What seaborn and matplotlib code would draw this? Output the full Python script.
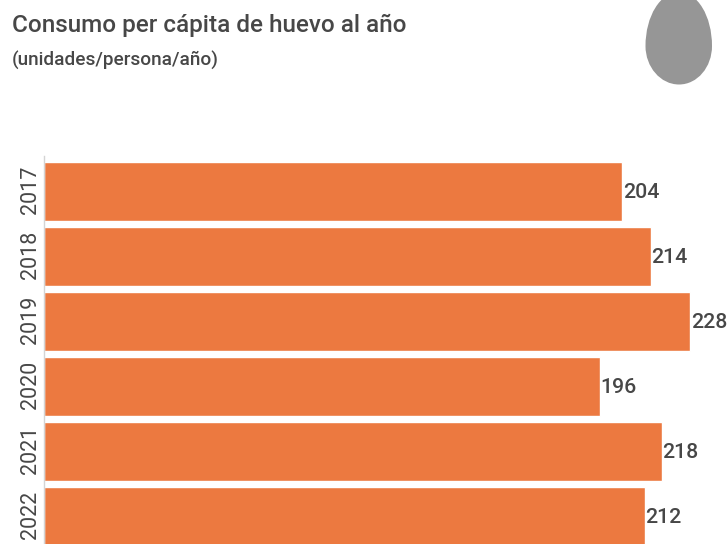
import matplotlib
matplotlib.use("Agg")
import matplotlib.pyplot as plt
import numpy as np
import pandas as pd
import seaborn as sns
from matplotlib.patches import PathPatch
from matplotlib.path import Path
from matplotlib.transforms import ScaledTranslation

years = ["2017", "2018", "2019", "2020", "2021", "2022"]
consumption = [204, 214, 228, 196, 218, 212]

BAR_COLOR = "#EC7940"
TEXT_COLOR = "#474747"
W, H = 728, 544

sns.set_theme(style="white")
plt.rcParams["font.family"] = ["Roboto", "DejaVu Sans"]

fig = plt.figure(figsize=(W / 100, H / 100), dpi=100, facecolor="white")
ax = fig.add_axes([44 / W, 0, (W - 44) / W, (H - 156) / H])

df = pd.DataFrame({"year": years, "consumo": consumption})
sns.barplot(data=df, x="consumo", y="year", order=years, orient="h",
            color=BAR_COLOR, saturation=1, width=0.9, ax=ax)

# Band scale runs past the bottom edge, so the last bar is cut off
ax.set_ylim(5.425, -0.545)
ax.set_xlim(0, (W - 44) / 2.835)
ax.set_xlabel("")
ax.set_ylabel("")
ax.set_xticks([])
ax.tick_params(axis="y", length=0, pad=2.5, labelsize=15.5, labelcolor=TEXT_COLOR)
lift = ScaledTranslation(0, 1.3 / 72, fig.dpi_scale_trans)
for label in ax.get_yticklabels():
    label.set_rotation(90)
    label.set_va("center")
    label.set_transform(label.get_transform() + lift)
sns.despine(ax=ax, top=True, right=True, bottom=True)
ax.spines["left"].set_color("#d4d4d4")
ax.spines["left"].set_linewidth(1)

for i, value in enumerate(consumption):
    ax.annotate(str(value), (value, i), xytext=(0.4, -0.6), textcoords="offset points",
                va="center", ha="left", fontsize=15.3, fontweight="medium",
                color=TEXT_COLOR, clip_on=False)

fig.text(12 / W, 1 - 25.5 / H, "Consumo per cápita de huevo al año", fontsize=17.5,
         fontweight="medium", color=TEXT_COLOR, va="center", ha="left")
fig.text(12 / W, 1 - 60 / H, "(unidades/persona/año)", fontsize=13.7,
         fontweight="medium", color=TEXT_COLOR, va="center", ha="left")

# Egg icon in the top right corner, drawn in pixel space
icon = fig.add_axes([0, 0, 1, 1], facecolor="none")
icon.set_xlim(0, W)
icon.set_ylim(H, 0)
icon.axis("off")
egg = Path(
    [(679, -8), (697.5, -8), (712, 16), (712, 46),
     (712, 67), (697.5, 84.5), (679, 84.5),
     (660.5, 84.5), (645.5, 67), (645.5, 46),
     (645.5, 16), (660.5, -8), (679, -8), (679, -8)],
    [Path.MOVETO, Path.CURVE4, Path.CURVE4, Path.CURVE4,
     Path.CURVE4, Path.CURVE4, Path.CURVE4,
     Path.CURVE4, Path.CURVE4, Path.CURVE4,
     Path.CURVE4, Path.CURVE4, Path.CURVE4, Path.CLOSEPOLY],
)
icon.add_patch(PathPatch(egg, facecolor="#969696", edgecolor="none"))

fig.savefig("out.png", dpi=100)
